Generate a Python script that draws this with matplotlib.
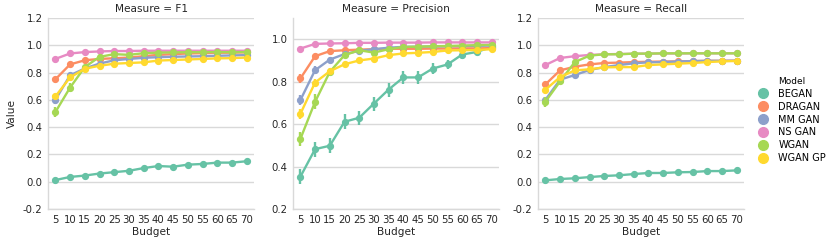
import matplotlib
matplotlib.use('Agg')
import matplotlib.pyplot as plt
import numpy as np

# data
budgets = [5, 10, 15, 20, 25, 30, 35, 40, 45, 50, 55, 60, 65, 70]
models = ['BEGAN', 'DRAGAN', 'MM GAN', 'NS GAN', 'WGAN', 'WGAN GP']
colors = ['#66c2a5', '#fc8d62', '#8da0cb', '#e78ac3', '#a6d854', '#ffd92f']

f1 = {
    'BEGAN':   [0.012, 0.035, 0.045, 0.06, 0.07, 0.08, 0.10, 0.115, 0.11, 0.125, 0.13, 0.14, 0.14, 0.15],
    'DRAGAN':  [0.75, 0.86, 0.89, 0.90, 0.905, 0.91, 0.92, 0.93, 0.935, 0.94, 0.942, 0.945, 0.946, 0.948],
    'MM GAN':  [0.60, 0.78, 0.83, 0.866, 0.89, 0.90, 0.908, 0.913, 0.916, 0.918, 0.92, 0.923, 0.926, 0.928],
    'NS GAN':  [0.90, 0.94, 0.95, 0.955, 0.958, 0.958, 0.96, 0.96, 0.96, 0.96, 0.96, 0.96, 0.96, 0.96],
    'WGAN':    [0.51, 0.69, 0.84, 0.915, 0.935, 0.93, 0.942, 0.946, 0.948, 0.949, 0.95, 0.95, 0.95, 0.95],
    'WGAN GP': [0.625, 0.764, 0.828, 0.85, 0.865, 0.87, 0.875, 0.888, 0.892, 0.896, 0.9, 0.904, 0.906, 0.91],
}
f1_err = {
    'BEGAN':   [0.005] * 14,
    'DRAGAN':  [0.02, 0.01] + [0.005] * 12,
    'MM GAN':  [0.03, 0.015] + [0.005] * 12,
    'NS GAN':  [0.01] + [0.004] * 13,
    'WGAN':    [0.035, 0.03, 0.015] + [0.005] * 11,
    'WGAN GP': [0.02, 0.012] + [0.005] * 12,
}

precision = {
    'BEGAN':   [0.352, 0.482, 0.498, 0.611, 0.63, 0.697, 0.763, 0.82, 0.82, 0.862, 0.881, 0.928, 0.94, 0.964],
    'DRAGAN':  [0.815, 0.92, 0.944, 0.948, 0.951, 0.953, 0.955, 0.955, 0.955, 0.956, 0.956, 0.957, 0.957, 0.958],
    'MM GAN':  [0.713, 0.854, 0.904, 0.93, 0.945, 0.953, 0.96, 0.964, 0.965, 0.966, 0.967, 0.968, 0.969, 0.97],
    'NS GAN':  [0.956, 0.978, 0.98, 0.981, 0.983, 0.983, 0.984, 0.984, 0.984, 0.985, 0.985, 0.985, 0.985, 0.985],
    'WGAN':    [0.53, 0.705, 0.846, 0.925, 0.948, 0.937, 0.953, 0.964, 0.965, 0.967, 0.968, 0.97, 0.972, 0.973],
    'WGAN GP': [0.648, 0.796, 0.849, 0.882, 0.90, 0.909, 0.925, 0.933, 0.936, 0.94, 0.947, 0.948, 0.949, 0.953],
}
precision_err = {
    'BEGAN':   [0.035, 0.035, 0.035, 0.035, 0.033, 0.033, 0.033, 0.03, 0.03, 0.025, 0.022, 0.02, 0.015, 0.01],
    'DRAGAN':  [0.02, 0.01] + [0.004] * 12,
    'MM GAN':  [0.025, 0.02, 0.012] + [0.004] * 11,
    'NS GAN':  [0.006] + [0.003] * 13,
    'WGAN':    [0.035, 0.035, 0.02] + [0.005] * 11,
    'WGAN GP': [0.025, 0.015, 0.008] + [0.004] * 11,
}

recall = {
    'BEGAN':   [0.01, 0.02, 0.025, 0.034, 0.042, 0.047, 0.056, 0.064, 0.064, 0.069, 0.071, 0.078, 0.078, 0.083],
    'DRAGAN':  [0.713, 0.816, 0.843, 0.86, 0.87, 0.873, 0.877, 0.879, 0.881, 0.882, 0.884, 0.886, 0.886, 0.887],
    'MM GAN':  [0.60, 0.748, 0.782, 0.819, 0.84, 0.855, 0.868, 0.875, 0.877, 0.881, 0.884, 0.886, 0.886, 0.887],
    'NS GAN':  [0.855, 0.907, 0.92, 0.929, 0.934, 0.936, 0.938, 0.939, 0.94, 0.94, 0.941, 0.941, 0.941, 0.941],
    'WGAN':    [0.586, 0.735, 0.877, 0.924, 0.934, 0.934, 0.939, 0.939, 0.941, 0.941, 0.941, 0.941, 0.941, 0.941],
    'WGAN GP': [0.674, 0.767, 0.816, 0.824, 0.838, 0.84, 0.84, 0.855, 0.86, 0.865, 0.87, 0.877, 0.882, 0.885],
}
recall_err = {
    'BEGAN':   [0.004] * 14,
    'DRAGAN':  [0.015, 0.008] + [0.004] * 12,
    'MM GAN':  [0.02, 0.01] + [0.004] * 12,
    'NS GAN':  [0.008] + [0.003] * 13,
    'WGAN':    [0.035, 0.015, 0.01] + [0.004] * 11,
    'WGAN GP': [0.02, 0.01] + [0.004] * 12,
}

measures = ['F1', 'Precision', 'Recall']
panels = [(f1, f1_err), (precision, precision_err), (recall, recall_err)]
ylims = [(-0.2, 1.2), (0.2, 1.1), (-0.2, 1.2)]
yticks = [np.arange(-0.2, 1.21, 0.2), np.arange(0.2, 1.01, 0.2), np.arange(-0.2, 1.21, 0.2)]

plt.rcParams['font.family'] = ['DejaVu Sans']
text_c = '#262626'
grid_c = '#d9d9d9'

fig = plt.figure(figsize=(8.3, 2.44), dpi=100)
lefts = [48, 293, 538]
w = 206
bottom, top = 209, 18

xs = np.arange(len(budgets))
for i, m in enumerate(measures):
    ax = fig.add_axes([lefts[i] / 830, 1 - bottom / 244, w / 830, (bottom - top) / 244])
    vals, errs = panels[i]
    for name, c in zip(models, colors):
        y = np.array(vals[name])
        e = np.array(errs[name])
        ax.vlines(xs, y - e, y + e, color=c, lw=1.7, zorder=3)
        ax.plot(xs, y, color=c, lw=1.7, marker='o', ms=4.2, zorder=3)
    ax.set_xlim(-0.5, len(budgets) - 0.5)
    ax.set_ylim(*ylims[i])
    ax.set_yticks(yticks[i])
    ax.set_yticklabels(['%.1f' % v if abs(v) > 1e-9 else '0.0' for v in yticks[i]])
    ax.set_xticks(xs)
    ax.set_xticklabels([str(b) for b in budgets])
    ax.yaxis.grid(True, color=grid_c, lw=1.0)
    ax.set_axisbelow(True)
    for s in ['top', 'right']:
        ax.spines[s].set_visible(False)
    for s in ['left', 'bottom']:
        ax.spines[s].set_color(grid_c)
        ax.spines[s].set_linewidth(1.0)
    ax.tick_params(length=0, colors=text_c, labelsize=7.3, pad=4)
    ax.set_title('Measure = ' + m, fontsize=7.6, color=text_c, pad=4)
    ax.set_xlabel('Budget', fontsize=7.6, color=text_c, labelpad=2)
    if i == 0:
        ax.set_ylabel('Value', fontsize=7.6, color=text_c)

handles = [plt.Line2D([], [], ls='', marker='o', ms=7, color=c) for c in colors]
fig.legend(handles, models, title='Model', loc='center left', bbox_to_anchor=(757 / 830, 0.508),
           frameon=False, fontsize=7, title_fontsize=6.5, borderpad=0, borderaxespad=0,
           handlelength=1.2, handletextpad=1.0, labelspacing=0.3)

fig.savefig('out.png', dpi=100)
